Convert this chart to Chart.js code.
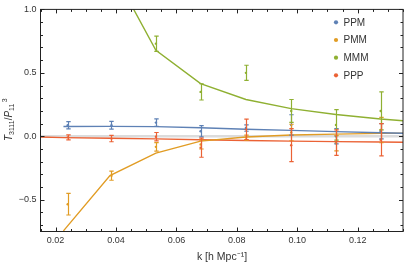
<!DOCTYPE html>
<html>
<head>
<meta charset="utf-8">
<script src="https://cdn.jsdelivr.net/npm/chart.js@4.4.1/dist/chart.umd.min.js"></script>
<style>
html,body{margin:0;padding:0;background:#fff;}
#wrap{width:407px;height:264px;position:relative;}
</style>
</head>
<body>
<div id="wrap"><canvas id="c"></canvas></div>
<script>
// ---- data ----
const seriesNames = ["PPM", "PMM", "MMM", "PPP"];
const kData = [0.024, 0.0385, 0.0532, 0.068, 0.083, 0.098, 0.1128, 0.1276];
const kLine = [0.0226, 0.038, 0.0532, 0.068, 0.083, 0.098, 0.1128, 0.1276, 0.1424];
const kLinePPP = [0.015, 0.0226, 0.038, 0.0532, 0.068, 0.083, 0.098, 0.1128, 0.1276, 0.1424];

const ppmLine = [0.077, 0.078, 0.076, 0.068, 0.056, 0.047, 0.037, 0.028, 0.021];
const pmmLine = [-0.745, -0.31, -0.133, -0.038, -0.005, 0.01, 0.017, 0.023, 0.028];
const mmmLine = [3.0, 1.345, 0.677, 0.415, 0.29, 0.218, 0.172, 0.136, 0.11];
const pppLine = [-0.005, -0.01, -0.015, -0.02, -0.027, -0.033, -0.038, -0.042, -0.045, -0.048];

const ppmVal = [0.087, 0.087, 0.108, 0.04, 0.065, 0.09, 0.0, 0.04];
const ppmErr = [0.028, 0.03, 0.03, 0.045, 0.025, 0.08, 0.06, 0.06];
const pmmVal = [-0.535, -0.31, -0.083, -0.065, -0.01, 0.03, -0.055, 0.05];
const pmmErr = [0.085, 0.036, 0.033, 0.035, 0.02, 0.065, 0.06, 0.1];
const mmmVal = [2.2, 1.5, 0.73, 0.35, 0.5, 0.2, 0.09, 0.2];
const mmmErr = [0.1, 0.08, 0.06, 0.064, 0.06, 0.09, 0.12, 0.15];
const pppVal = [-0.008, -0.018, -0.003, -0.09, 0.055, -0.07, -0.05, -0.027];
const pppErr = [0.02, 0.025, 0.033, 0.075, 0.08, 0.13, 0.1, 0.127];

const xTickVals = [0.02, 0.04, 0.06, 0.08, 0.10, 0.12];
const xTickLabels = ["0.02", "0.04", "0.06", "0.08", "0.10", "0.12"];
const yTickVals = [-0.5, 0, 0.5, 1.0];
const yTickLabels = ["\u22120.5", "0.0", "0.5", "1.0"];

const colors = ["#5E81B5", "#E19C24", "#8FB032", "#EB6235"];
const FONT = "'Liberation Sans', Arial, sans-serif";

const lineSets = [
  {k: kLine, v: ppmLine}, {k: kLine, v: pmmLine}, {k: kLine, v: mmmLine}, {k: kLinePPP, v: pppLine}
];
const ptSets = [
  {v: ppmVal, e: ppmErr}, {v: pmmVal, e: pmmErr}, {v: mmmVal, e: mmmErr}, {v: pppVal, e: pppErr}
];

const datasets = [];
lineSets.forEach((s, i) => {
  datasets.push({
    type: 'line', label: seriesNames[i] + ' theory',
    data: s.k.map((k, j) => ({x: k, y: s.v[j]})),
    borderColor: colors[i], borderWidth: 1.4, pointRadius: 0, tension: 0, fill: false, order: 2
  });
});
ptSets.forEach((s, i) => {
  datasets.push({
    type: 'scatter', label: seriesNames[i],
    data: kData.map((k, j) => ({x: k, y: s.v[j]})),
    errs: s.e,
    backgroundColor: colors[i], borderColor: colors[i], pointRadius: 1.2, borderWidth: 0, order: 1
  });
});

const zeroLine = {
  id: 'zeroLine',
  beforeDatasetsDraw(chart) {
    const {ctx, chartArea: a, scales: {y}} = chart;
    const py = y.getPixelForValue(0);
    ctx.save();
    ctx.strokeStyle = '#dcdcdc';
    ctx.lineWidth = 2.5;
    ctx.beginPath(); ctx.moveTo(a.left, py); ctx.lineTo(a.right, py); ctx.stroke();
    ctx.restore();
  }
};

const errorBars = {
  id: 'errorBars',
  afterDatasetsDraw(chart) {
    const {ctx, chartArea: a, scales: {x, y}} = chart;
    ctx.save();
    ctx.beginPath(); ctx.rect(a.left, a.top, a.right - a.left, a.bottom - a.top); ctx.clip();
    chart.data.datasets.forEach(ds => {
      if (!ds.errs) return;
      ctx.strokeStyle = ds.borderColor;
      ctx.lineWidth = 1.2;
      ds.data.forEach((p, j) => {
        const px = Math.round(x.getPixelForValue(p.x)) + 0.5;
        const y1 = y.getPixelForValue(p.y + ds.errs[j]);
        const y2 = y.getPixelForValue(p.y - ds.errs[j]);
        ctx.beginPath();
        ctx.moveTo(px, y1); ctx.lineTo(px, y2);
        ctx.moveTo(px - 2.2, y1); ctx.lineTo(px + 2.2, y1);
        ctx.moveTo(px - 2.2, y2); ctx.lineTo(px + 2.2, y2);
        ctx.stroke();
      });
    });
    ctx.restore();
  }
};

const frame = {
  id: 'frame',
  afterDraw(chart) {
    const {ctx, chartArea: a, scales: {x, y}} = chart;
    ctx.save();
    ctx.strokeStyle = '#222';
    ctx.lineWidth = 1;
    ctx.strokeRect(a.left, a.top, a.right - a.left, a.bottom - a.top);
    ctx.beginPath();
    for (let i = 0; i <= 24; i++) {
      const v = 0.015 + i * 0.005;
      if (v > 0.1351) break;
      const px = Math.round(x.getPixelForValue(v)) + 0.5;
      const major = Math.abs((v / 0.02) - Math.round(v / 0.02)) < 1e-6;
      const L = major ? 4 : 2.5;
      ctx.moveTo(px, a.bottom); ctx.lineTo(px, a.bottom - L);
      ctx.moveTo(px, a.top); ctx.lineTo(px, a.top + L);
    }
    for (let i = 0; i <= 17; i++) {
      const v = -0.7 + i * 0.1;
      if (v > 1.0001) break;
      const py = Math.round(y.getPixelForValue(v)) + 0.5;
      const major = Math.abs((v / 0.5) - Math.round(v / 0.5)) < 1e-6;
      const L = major ? 4 : 2.5;
      ctx.moveTo(a.left, py); ctx.lineTo(a.left + L, py);
      ctx.moveTo(a.right, py); ctx.lineTo(a.right - L, py);
    }
    ctx.stroke();

    // legend
    ctx.textBaseline = 'middle';
    ctx.textAlign = 'left';
    ctx.font = '10px ' + FONT;
    const legY = [22.3, 40, 57.7, 75.3];
    seriesNames.forEach((n, i) => {
      ctx.fillStyle = colors[i];
      ctx.beginPath(); ctx.arc(336, legY[i], 2.1, 0, Math.PI * 2); ctx.fill();
      ctx.fillStyle = '#333';
      ctx.fillText(n, 343.5, legY[i] + 0.5);
    });

    // x title
    ctx.fillStyle = '#333';
    ctx.textAlign = 'center';
    ctx.font = '10.5px ' + FONT;
    ctx.fillText('k [h Mpc\u207B\u00B9]', 222, 257.5);

    // y title (rotated)
    ctx.save();
    ctx.translate(11.5, 141);
    ctx.rotate(-Math.PI / 2);
    ctx.textAlign = 'left';
    ctx.textBaseline = 'alphabetic';
    let cx = 0;
    const parts = [
      ['T', 'italic 10px ' + FONT, 0],
      ['3111', '7px ' + FONT, 2.5],
      ['/', '10px ' + FONT, 0],
      ['P', 'italic 10px ' + FONT, 0],
      ['11', '7px ' + FONT, 2.5],
      ['3', '7px ' + FONT, -5]
    ];
    parts.forEach((p, idx) => {
      ctx.font = p[1];
      if (idx === 5) cx += 1.5;
      ctx.fillText(p[0], cx, p[2]);
      cx += ctx.measureText(p[0]).width;
    });
    ctx.restore();
    ctx.restore();
  }
};

new Chart(document.getElementById('c'), {
  type: 'scatter',
  data: {datasets},
  options: {
    responsive: true, maintainAspectRatio: false, animation: false,
    layout: {padding: {top: 4.5, right: 1.5, left: 0, bottom: 0}},
    plugins: {legend: {display: false}, tooltip: {enabled: false}},
    scales: {
      x: {
        type: 'linear', min: 0.015, max: 0.135,
        grid: {display: false, drawTicks: false, tickLength: 0}, border: {display: false},
        ticks: {
          font: {size: 9, family: FONT}, color: '#333', padding: 4, maxRotation: 0, autoSkip: false,
          callback: (v) => { const i = xTickVals.findIndex(t => Math.abs(t - v) < 1e-9); return i >= 0 ? xTickLabels[i] : ''; }
        },
        afterBuildTicks: s => { s.ticks = xTickVals.map(v => ({value: v})); },
        afterFit: s => { s.height = 32.5; }
      },
      y: {
        type: 'linear', min: -0.75, max: 1.0,
        grid: {display: false, drawTicks: false, tickLength: 0}, border: {display: false},
        ticks: {
          font: {size: 9, family: FONT}, color: '#333', padding: 4, autoSkip: false,
          callback: (v) => { const i = yTickVals.findIndex(t => Math.abs(t - v) < 1e-9); return i >= 0 ? yTickLabels[i] : ''; }
        },
        afterBuildTicks: s => { s.ticks = yTickVals.map(v => ({value: v})); },
        afterFit: s => { s.width = 40.5; }
      }
    }
  },
  plugins: [zeroLine, errorBars, frame]
});
</script>
</body>
</html>
